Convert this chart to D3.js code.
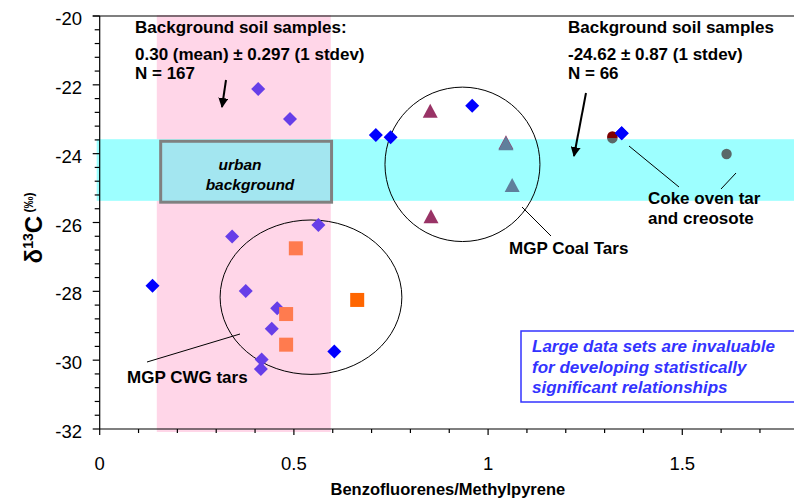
<!DOCTYPE html>
<html>
<head>
<meta charset="utf-8">
<script src="https://cdn.jsdelivr.net/npm/d3@7"></script>
<style>
  html, body { margin: 0; padding: 0; background: #ffffff; }
  svg { display: block; }
  text { font-family: "Liberation Sans", Arial, sans-serif; }
</style>
</head>
<body>
<svg id="chart" width="794" height="503"></svg>
<script>
// ---------------- DATA ----------------
// Blue diamonds
const blueDiamondX = [0.136, 1.344, 0.711, 0.749, 0.959, 0.604];
const blueDiamondY = [-27.84, -23.41, -23.46, -23.52, -22.61, -29.75];
// Purple diamonds
const purpleDiamondX = [0.408, 0.490, 0.563, 0.341, 0.376, 0.457, 0.443, 0.417, 0.415];
const purpleDiamondY = [-22.12, -22.99, -26.07, -26.41, -27.99, -28.49, -29.09, -29.98, -30.26];
// Orange squares (CWG tars)
const coralSquareX = [0.505, 0.480, 0.480];
const coralSquareY = [-26.75, -28.66, -29.55];
const darkOrangeSquareX = [0.663];
const darkOrangeSquareY = [-28.25];
// Triangles (MGP coal tars)
const maroonTriangleX = [0.851, 0.853, 1.046];
const maroonTriangleY = [-22.78, -25.85, -23.70];
const slateTriangleX = [1.046, 1.062];
const slateTriangleY = [-23.73, -24.94];
// Circles (coke oven tar / creosote)
const grayCircleX = [1.320, 1.614];
const grayCircleY = [-23.55, -24.01];
const redCircleX = [1.320];
const redCircleY = [-23.50];

// Background ranges
const pinkBandX = [0.147, 0.595];      // Benzofluorenes/Methylpyrene background
const cyanBandY = [-23.58, -25.37];    // δ13C background
const urbanBoxX = [0.157, 0.597];
const urbanBoxY = [-23.64, -25.41];

// Grouping ellipses [cx, cy, rx, ry] in data units
const cwgEllipse = [0.544, -28.17, 0.234, 2.243];
const coalEllipse = [0.934, -24.31, 0.1995, 2.243];

// Axes
const xDomain = [0, 1.8];
const yDomain = [-32, -20];
const xMajorTicks = [0, 0.5, 1, 1.5];
const xTickLabels = ["0", "0.5", "1", "1.5"];
const xMinorStep = 0.1;
const yMajorTicks = [-20, -22, -24, -26, -28, -30, -32];
const yTickLabels = ["-20", "-22", "-24", "-26", "-28", "-30", "-32"];
const yMinorStep = 0.4;

// ---------------- CHART ----------------
const svg = d3.select("#chart");
const W = 794, H = 503;
const x = d3.scaleLinear().domain(xDomain).range([99.7, 798.8]);
const y = d3.scaleLinear().domain(yDomain).range([429, 16]);

// Pink band
svg.append("rect")
  .attr("x", x(pinkBandX[0])).attr("y", y(yDomain[1]) - 1)
  .attr("width", x(pinkBandX[1]) - x(pinkBandX[0]))
  .attr("height", y(yDomain[0]) - y(yDomain[1]) + 4)
  .attr("fill", "#ffd6e8");

// Cyan band
svg.append("rect")
  .attr("x", x(0) - 3).attr("y", y(cyanBandY[0]))
  .attr("width", W - x(0) + 3)
  .attr("height", y(cyanBandY[1]) - y(cyanBandY[0]))
  .attr("fill", "#9dffff");

// Urban background box
svg.append("rect")
  .attr("x", x(urbanBoxX[0])).attr("y", y(urbanBoxY[0]))
  .attr("width", x(urbanBoxX[1]) - x(urbanBoxX[0]))
  .attr("height", y(urbanBoxY[1]) - y(urbanBoxY[0]))
  .attr("fill", "#a3e6f0").attr("stroke", "#808080").attr("stroke-width", 3);

const ub = svg.append("text")
  .attr("font-size", 15.5).attr("font-weight", "bold").attr("font-style", "italic")
  .attr("fill", "#000").attr("text-anchor", "middle");
ub.append("tspan").attr("x", 240).attr("y", 170).text("urban");
ub.append("tspan").attr("x", 250).attr("y", 190).text("background");

// Axes
const axG = svg.append("g").attr("stroke", "#000").attr("stroke-width", 1.2);
axG.append("line").attr("x1", x(0) - 7).attr("x2", W).attr("y1", y(-20)).attr("y2", y(-20));
axG.append("line").attr("x1", x(0)).attr("x2", x(0)).attr("y1", y(-20)).attr("y2", y(-32));
axG.append("line").attr("x1", x(0)).attr("x2", W).attr("y1", y(-32)).attr("y2", y(-32));

// y ticks
const yMinor = d3.range(0, 31).map(i => -20 - i * yMinorStep).filter(v => v >= -32.001);
yMinor.forEach(v => {
  const isMajor = yMajorTicks.some(m => Math.abs(m - v) < 1e-6);
  axG.append("line").attr("x1", x(0) - (isMajor ? 7 : 5)).attr("x2", x(0))
    .attr("y1", y(v)).attr("y2", y(v));
});
yMajorTicks.forEach((v, i) => {
  svg.append("text").attr("x", 82).attr("y", y(v) + 9)
    .attr("text-anchor", "end").attr("font-size", 18.5).attr("fill", "#000")
    .text(yTickLabels[i]);
});

// x ticks
const xMinor = d3.range(0, 18).map(i => i * xMinorStep).filter(v => x(v) < W);
xMinor.forEach(v => {
  const isMajor = xMajorTicks.some(m => Math.abs(m - v) < 1e-6);
  axG.append("line").attr("x1", x(v)).attr("x2", x(v))
    .attr("y1", y(-32)).attr("y2", y(-32) + (isMajor ? 6 : 4));
});
xMajorTicks.forEach((v, i) => {
  svg.append("text").attr("x", x(v)).attr("y", 470)
    .attr("text-anchor", "middle").attr("font-size", 18.5).attr("fill", "#000")
    .text(xTickLabels[i]);
});

// Axis titles
svg.append("text").attr("x", (x(0) + W) / 2 + 1).attr("y", 495)
  .attr("text-anchor", "middle").attr("font-size", 16.5).attr("font-weight", "bold")
  .text("Benzofluorenes/Methylpyrene");

const yt = svg.append("text")
  .attr("transform", "translate(42,228) rotate(-90)")
  .attr("text-anchor", "middle").attr("font-weight", "bold").attr("fill", "#000");
yt.append("tspan").attr("font-size", 24).text("δ");
yt.append("tspan").attr("font-size", 14).attr("dy", -9).text("13");
yt.append("tspan").attr("font-size", 24).attr("dy", 9).text("C");
yt.append("tspan").attr("font-size", 12).attr("dy", -9).text(" (‰)");

// Ellipses
[cwgEllipse, coalEllipse].forEach(e => {
  svg.append("ellipse")
    .attr("cx", x(e[0])).attr("cy", y(e[1]))
    .attr("rx", x(e[0] + e[2]) - x(e[0]))
    .attr("ry", y(e[1] - e[3]) - y(e[1]))
    .attr("fill", "none").attr("stroke", "#000").attr("stroke-width", 1);
});

// ---------------- MARKS ----------------
const diamond = d3.symbol().type(d3.symbolSquare).size(98);
function drawDiamonds(xs, ys, color) {
  svg.append("g").selectAll("path").data(xs.map((v, i) => [v, ys[i]])).join("path")
    .attr("d", diamond)
    .attr("transform", d => `translate(${x(d[0])},${y(d[1])}) rotate(45)`)
    .attr("fill", color);
}
function drawSquares(xs, ys, color) {
  svg.append("g").selectAll("rect").data(xs.map((v, i) => [v, ys[i]])).join("rect")
    .attr("x", d => x(d[0]) - 7).attr("y", d => y(d[1]) - 7)
    .attr("width", 14).attr("height", 14).attr("fill", color);
}
function drawTriangles(xs, ys, color) {
  svg.append("g").selectAll("path").data(xs.map((v, i) => [v, ys[i]])).join("path")
    .attr("d", "M0,-8L7.5,6L-7.5,6Z")
    .attr("transform", d => `translate(${x(d[0])},${y(d[1])})`)
    .attr("fill", color);
}
function drawCircles(xs, ys, color, r, clip) {
  const g = svg.append("g");
  if (clip) g.attr("clip-path", clip);
  g.selectAll("circle").data(xs.map((v, i) => [v, ys[i]])).join("circle")
    .attr("cx", d => x(d[0])).attr("cy", d => y(d[1])).attr("r", r).attr("fill", color);
}

drawDiamonds(purpleDiamondX, purpleDiamondY, "#663ee8");
drawDiamonds(blueDiamondX, blueDiamondY, "#0000ff");
drawSquares(coralSquareX, coralSquareY, "#ff7b4f");
drawSquares(darkOrangeSquareX, darkOrangeSquareY, "#ff6600");
drawTriangles(maroonTriangleX, maroonTriangleY, "#993366");
drawTriangles(slateTriangleX, slateTriangleY, "#5f7f9c");
drawCircles(grayCircleX, grayCircleY, "#5a6868", 5.2);
// red circle shows only its upper part above the overlapping gray point
const defs = svg.append("defs");
defs.append("clipPath").attr("id", "redClip").append("rect")
  .attr("x", x(redCircleX[0]) - 8).attr("y", y(redCircleY[0]) - 8)
  .attr("width", 16).attr("height", 9.5);
drawCircles(redCircleX, redCircleY, "#800000", 5.2, "url(#redClip)");
// blue diamond next to the coke point drawn on top
drawDiamonds([blueDiamondX[1]], [blueDiamondY[1]], "#0000ff");

// ---------------- ANNOTATIONS ----------------
const annot = svg.append("g").attr("font-size", 17).attr("font-weight", "bold").attr("fill", "#000");
function textLines(g, xPos, ys, lines) {
  lines.forEach((t, i) => g.append("text").attr("x", xPos).attr("y", ys[i]).text(t));
}
textLines(annot, 135, [33, 60, 79], ["Background soil samples:", "0.30 (mean) ± 0.297 (1 stdev)", "N = 167"]);
textLines(annot, 568, [33, 60, 79], ["Background soil samples", "-24.62 ± 0.87 (1 stdev)", "N = 66"]);
textLines(annot, 648, [204, 224], ["Coke oven tar", "and creosote"]);
textLines(annot, 509, [254], ["MGP Coal Tars"]);
textLines(annot, 127, [383], ["MGP CWG tars"]);

// arrow marker
defs.append("marker")
  .attr("id", "arrow").attr("viewBox", "0 0 10 10").attr("refX", 9).attr("refY", 5)
  .attr("markerWidth", 5).attr("markerHeight", 5).attr("orient", "auto")
  .append("path").attr("d", "M0,0L10,5L0,10Z").attr("fill", "#000");

const lines = svg.append("g").attr("stroke", "#000").attr("fill", "none");
lines.append("line").attr("x1", 226).attr("y1", 80).attr("x2", 222).attr("y2", 107)
  .attr("stroke-width", 2).attr("marker-end", "url(#arrow)");
lines.append("line").attr("x1", 586).attr("y1", 93).attr("x2", 574).attr("y2", 156)
  .attr("stroke-width", 2).attr("marker-end", "url(#arrow)");
lines.append("line").attr("x1", 629).attr("y1", 146).attr("x2", 679).attr("y2", 187).attr("stroke-width", 1);
lines.append("line").attr("x1", 736).attr("y1", 173).attr("x2", 721).attr("y2", 189).attr("stroke-width", 1);
lines.append("line").attr("x1", 522).attr("y1", 207).attr("x2", 551).attr("y2", 236).attr("stroke-width", 1);
lines.append("line").attr("x1", 147).attr("y1", 362).attr("x2", 240).attr("y2", 334).attr("stroke-width", 1);

// Info box
svg.append("rect").attr("x", 521).attr("y", 331).attr("width", 290).attr("height", 71)
  .attr("fill", "#fff").attr("stroke", "#3333ff").attr("stroke-width", 1.5);
const info = svg.append("g").attr("font-size", 17).attr("font-weight", "bold")
  .attr("font-style", "italic").attr("fill", "#3333ff");
textLines(info, 532, [352, 373, 393], ["Large data sets are invaluable", "for developing statistically", "significant relationships"]);
</script>
</body>
</html>
